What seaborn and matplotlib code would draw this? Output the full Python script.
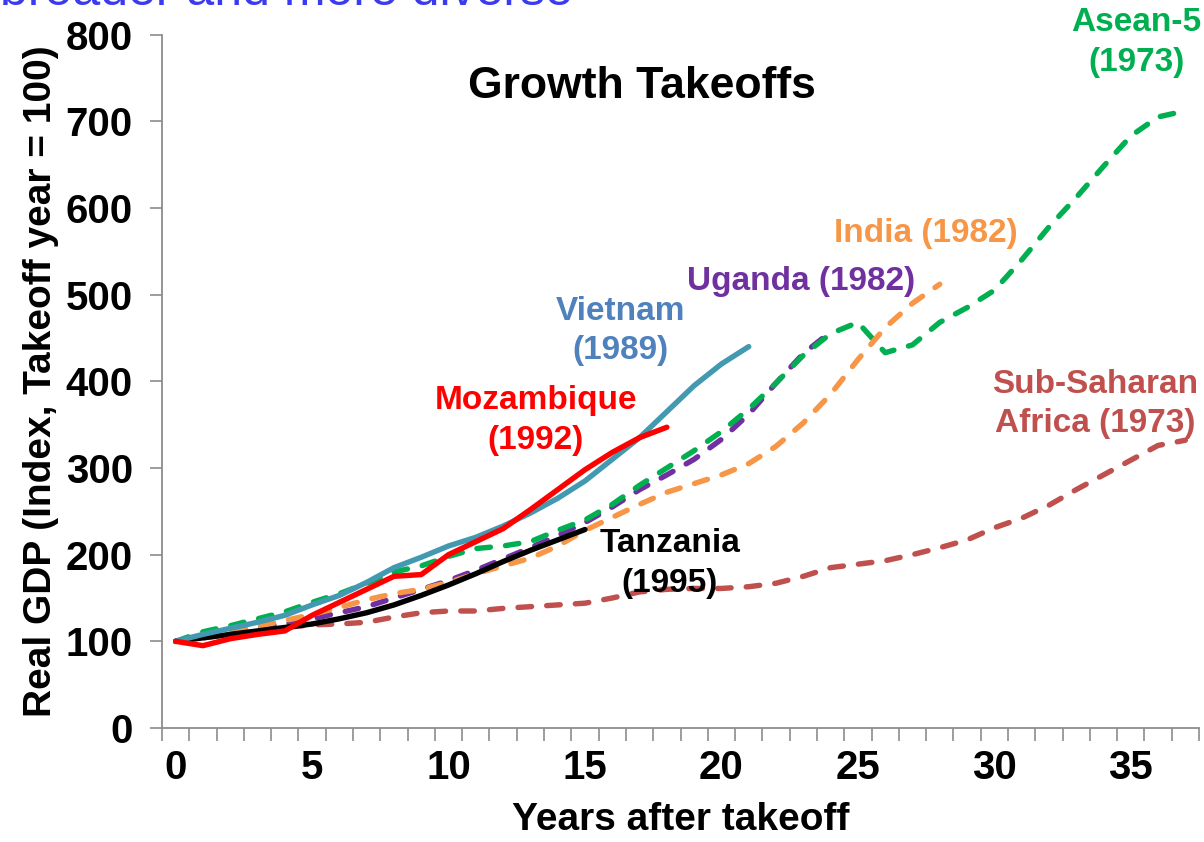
import numpy as np
import pandas as pd
import matplotlib
matplotlib.use("Agg")
import matplotlib.pyplot as plt
import seaborn as sns

# ---------------- data ----------------
vietnam = [100, 108, 115, 122, 130, 142, 153, 168, 185, 197, 210, 220, 233, 248,
           265, 285, 310, 335, 365, 395, 420, 440]
mozambique = [100, 95, 103, 108, 112, 130, 145, 160, 175, 177, 200, 215, 230, 252,
              275, 298, 318, 335, 347]
tanzania = [100, 104, 108, 112, 116, 120, 126, 133, 142, 153, 165, 178, 192, 205,
            217, 229]
uganda = [100, 105, 110, 115, 120, 126, 133, 140, 150, 160, 170, 182, 195, 208,
          222, 237, 255, 275, 292, 310, 333, 362, 398, 432, 457]
india = [100, 105, 111, 117, 124, 131, 139, 148, 155, 160, 168, 178, 187, 196,
         210, 228, 243, 258, 272, 282, 292, 305, 325, 352, 385, 425, 462, 490, 512]
asean5 = [100, 111, 118, 126, 134, 145, 155, 167, 180, 187, 198, 207, 210, 215,
          228, 240, 258, 280, 300, 320, 342, 368, 398, 430, 455, 468, 433, 442,
          468, 485, 505, 540, 578, 612, 648, 683, 705, 712]
ssa = [100, 104, 108, 112, 116, 119, 120, 122, 128, 133, 135, 135, 138, 140,
       142, 144, 150, 157, 160, 161, 161, 163, 167, 175, 185, 189, 193, 200,
       208, 217, 231, 242, 257, 275, 292, 309, 326, 332]

x_ticks = [0, 5, 10, 15, 20, 25, 30, 35]
y_ticks = [0, 100, 200, 300, 400, 500, 600, 700, 800]

title = "Growth Takeoffs"
x_label = "Years after takeoff"
y_label = "Real GDP (Index, Takeoff year = 100)"

# ---------------- styling ----------------
sns.set_style("white")
plt.rcParams["font.family"] = ["Liberation Sans", "DejaVu Sans"]
plt.rcParams["font.weight"] = "bold"

W, H, DPI = 1204, 842, 100
fig = plt.figure(figsize=(W / DPI, H / DPI), dpi=DPI)
ax = fig.add_axes([162 / W, 1 - 728 / H, (1199 - 162) / W, (728 - 34.6) / H])

LW = 3.9
DASH = (0, (2.5, 2.8))

series = [
    # name, values, color, dashed
    ("Sub-Saharan Africa", ssa, "#C0504D", True),
    ("Uganda", uganda, "#7030A0", True),
    ("Asean-5", asean5, "#00B050", True),
    ("India", india, "#F79646", True),
    ("Tanzania", tanzania, "#000000", False),
    ("Vietnam", vietnam, "#4299B0", False),
    ("Mozambique", mozambique, "#FF0000", False),
]

for name, vals, col, dashed in series:
    df = pd.DataFrame({"year": np.arange(len(vals)), "gdp": vals})
    kw = dict(linestyle=DASH, dash_capstyle="round") if dashed else dict(
        linestyle="-", solid_capstyle="round", solid_joinstyle="round")
    sns.lineplot(data=df, x="year", y="gdp", color=col, linewidth=LW, ax=ax,
                 legend=False, **kw)

ax.set_xlim(-0.5, 37.5)
ax.set_ylim(0, 800)

grey = "#8C8C8C"
for s in ["top", "right"]:
    ax.spines[s].set_visible(False)
for s in ["left", "bottom"]:
    ax.spines[s].set_color(grey)
    ax.spines[s].set_linewidth(1.3)

ax.set_xticks(x_ticks)
ax.set_xticklabels([str(t) for t in x_ticks])
ax.set_xticks(np.arange(-0.5, 38, 1.0), minor=True)
ax.tick_params(axis="x", which="major", length=0, pad=15, labelsize=29,
               labelcolor="black")
ax.tick_params(axis="x", which="minor", length=9, width=1.2, color=grey,
               direction="out", bottom=True)
ax.set_yticks(y_ticks)
ax.tick_params(axis="y", which="major", length=9, width=1.2, color=grey,
               direction="out", left=True, pad=12, labelsize=29,
               labelcolor="black")
for lab in ax.get_xticklabels() + ax.get_yticklabels():
    lab.set_fontweight("bold")

ax.set_xlabel(x_label, fontsize=28, fontweight="bold", labelpad=11,
              color="black")
ax.set_ylabel(y_label, fontsize=28, fontweight="bold", labelpad=5,
              color="black")

ax.text(0.463, 0.925, title, transform=ax.transAxes, ha="center", va="center",
        fontsize=32, fontweight="bold", color="black")

# series labels
lab_kw = dict(ha="center", va="center", fontsize=24, fontweight="bold",
              linespacing=1.35)
ax.text(16.3, 458, "Vietnam\n(1989)", color="#4F81BD", **lab_kw)
ax.text(13.2, 355, "Mozambique\n(1992)", color="#FF0000", **lab_kw)
ax.text(18.1, 190, "Tanzania\n(1995)", color="#000000", **lab_kw)
ax.text(22.9, 515, "Uganda (1982)", color="#7030A0", **lab_kw)
ax.text(27.5, 571, "India (1982)", color="#F79646", **lab_kw)
ax.text(35.2, 791, "Asean-5\n(1973)", color="#00B050", **lab_kw)
ax.text(33.7, 374, "Sub-Saharan\nAfrica (1973)", color="#C0504D", **lab_kw)

# heading of the slide, cut off at the top edge as in the reference
fig.text(0.0, 1 - 5 / H, "broader and more diverse", ha="left", va="baseline",
         fontsize=36, color="#3A3AF0", fontweight="normal")

fig.savefig("out.png", dpi=DPI)
